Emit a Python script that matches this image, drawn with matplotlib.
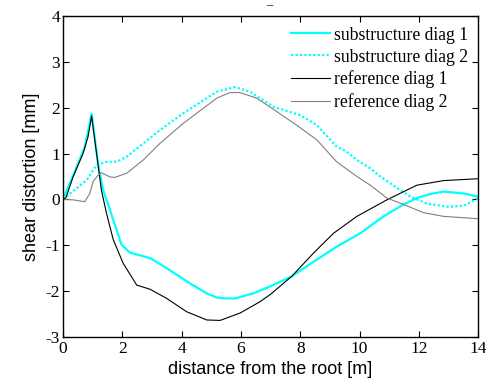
import numpy as np
import matplotlib
matplotlib.use("Agg")
import matplotlib.pyplot as plt

plt.rcParams["axes.unicode_minus"] = False

# substructure diag 1 (cyan solid)
sub1_x = [0, 0.4, 0.74, 0.97, 1.19, 1.36, 1.53, 1.7, 1.98, 2.26, 2.6, 2.94, 3.5,
          4.28, 4.85, 5.19, 5.5, 5.8, 6.42, 6.98, 7.71, 8.45, 9.23, 10.02, 10.81,
          11.48, 11.93, 12.4, 12.83, 13.51, 14.0]
sub1_y = [0, 0.6, 1.15, 1.87, 0.75, 0.2, -0.12, -0.45, -0.99, -1.16, -1.22, -1.28, -1.5,
          -1.83, -2.05, -2.14, -2.16, -2.16, -2.05, -1.9, -1.68, -1.36, -1.03, -0.74, -0.37,
          -0.11, 0.03, 0.12, 0.17, 0.13, 0.06]

# substructure diag 2 (cyan dotted)
sub2_x = [0, 0.46, 0.8, 1.02, 1.14, 1.47, 1.81, 2.15, 2.71, 3.27, 4.06, 5.19, 5.8,
          6.31, 7.1, 8.0, 8.56, 9.23, 9.57, 9.91, 10.36, 10.7, 11.26, 11.71, 12.27,
          12.94, 13.51, 14.0]
sub2_y = [0, 0.24, 0.42, 0.64, 0.75, 0.82, 0.82, 0.93, 1.22, 1.51, 1.88, 2.35, 2.45,
          2.35, 2.02, 1.84, 1.62, 1.15, 1.04, 0.86, 0.68, 0.5, 0.25, 0.06, -0.09,
          -0.16, -0.14, 0.03]

# reference diag 1 (black)
ref1_x = [0, 0.1, 0.35, 0.68, 0.85, 0.97, 1.3, 1.47, 1.7, 2.03, 2.49, 2.94, 3.5,
          4.17, 4.85, 5.3, 5.97, 6.65, 7.0, 7.71, 8.45, 9.12, 9.91, 10.92, 11.93,
          12.83, 13.96, 14.0]
ref1_y = [0, 0.03, 0.5, 1.0, 1.37, 1.82, 0.2, -0.3, -0.88, -1.39, -1.87, -1.96, -2.16,
          -2.45, -2.63, -2.64, -2.48, -2.23, -2.07, -1.68, -1.17, -0.74, -0.37, -0.01, 0.31,
          0.41, 0.45, 0.45]

# reference diag 2 (gray)
ref2_x = [0, 0.35, 0.74, 0.91, 1.02, 1.19, 1.3, 1.59, 1.75, 2.15, 2.71, 3.27, 4.06,
          5.19, 5.63, 5.97, 6.53, 7.2, 7.88, 8.56, 9.23, 9.91, 10.36, 10.92, 11.48,
          12.16, 12.83, 13.96, 14.0]
ref2_y = [0, -0.01, -0.05, 0.13, 0.39, 0.53, 0.58, 0.49, 0.48, 0.57, 0.86, 1.22, 1.66,
          2.21, 2.33, 2.33, 2.21, 1.92, 1.62, 1.30, 0.82, 0.5, 0.31, 0.03, -0.11,
          -0.29, -0.37, -0.42, -0.42]

serif = "Liberation Serif"
sans = "Liberation Sans"

fig = plt.figure(figsize=(4.91, 3.82), dpi=100)
ax = fig.add_axes([0.128, 0.118, 0.846, 0.840])

ax.plot(sub1_x, sub1_y, color="#00ffff", lw=1.6, label="substructure diag 1")
ax.plot(sub2_x, sub2_y, color="#00ffff", lw=1.6, ls=(0, (1, 1)), label="substructure diag 2")
ax.plot(ref1_x, ref1_y, color="black", lw=0.8, label="reference diag 1")
ax.plot(ref2_x, ref2_y, color="#808080", lw=0.8, label="reference diag 2")

ax.set_xlim(0, 14)
ax.set_ylim(-3, 4)
ax.set_xticks(np.arange(0, 15, 2))
ax.set_yticks(np.arange(-3, 5, 1))
ax.tick_params(direction="in", top=True, right=True, length=4, width=0.8,
               labelsize=12.5, pad=2)
ax.tick_params(axis="x", pad=3)
for lab in ax.get_xticklabels() + ax.get_yticklabels():
    lab.set_fontfamily(serif)
for s in ax.spines.values():
    s.set_linewidth(1.0)

ax.set_xlabel("distance from the root [m]", fontsize=13, family=sans, labelpad=3)
ax.set_ylabel("shear distortion [mm]", fontsize=13, family=sans, labelpad=4)

leg = ax.legend(loc="upper right", frameon=False, prop={"family": serif, "size": 12.7},
                handlelength=2.2, handletextpad=0.2, labelspacing=0.28,
                borderaxespad=0.3, borderpad=0.3)

fig.text(0.548, 0.987, "\u2013", ha="center", va="center", fontsize=9, family=serif)

fig.savefig("out.png", dpi=100)
